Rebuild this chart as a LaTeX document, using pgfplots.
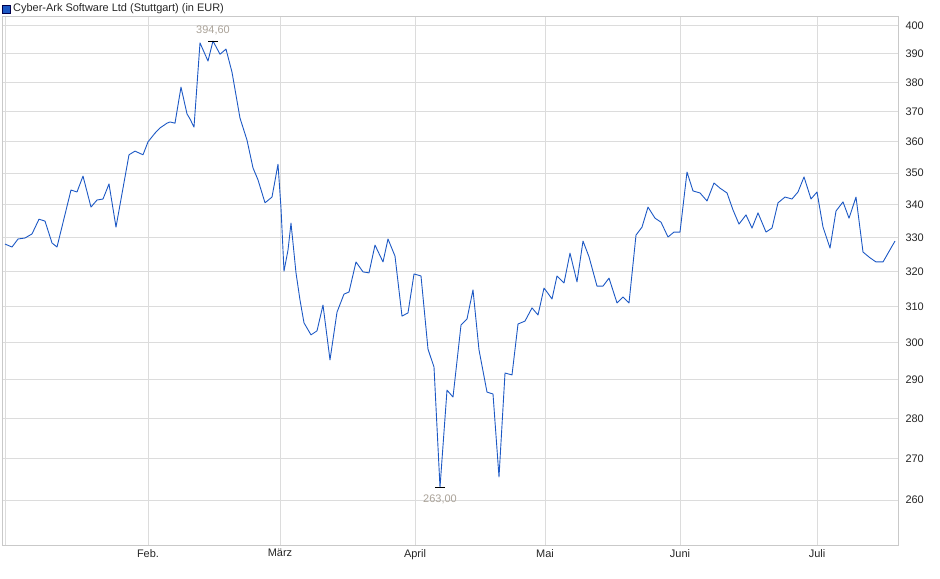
\documentclass[border=0pt]{standalone}
\usepackage{fontspec}
\setmainfont{Liberation Sans}
\usepackage{pgfplots}
\pgfplotsset{compat=1.18}
\usepackage{pgfplotstable}

\definecolor{kurs}{RGB}{28,88,196}
\definecolor{gitter}{RGB}{220,220,220}
\definecolor{marke}{RGB}{170,162,152}

% x = position on the time axis (Jan ... Jul), y = price in EUR
\pgfplotstableread{
x y
5 328.1
12 327.2
18 329.6
25 329.9
32 331.1
39 335.6
45 335.0
52 328.4
57 327.2
71 344.6
77 344.0
83 349.0
91 339.3
97 341.5
103 341.8
109 346.5
116 333.2
129 355.8
135 357.0
143 355.8
148 360.0
155 362.9
160 364.6
167 366.2
170 366.6
175 366.2
181 378.4
187 369.3
190 367.6
194 364.9
200 393.9
208 387.5
213 394.6
220 389.9
226 391.7
232 383.6
240 367.9
247 360.6
253 351.6
258 347.8
265 340.6
272 342.4
278 352.8
281 339.0
284 320.1
288 326.3
291 334.4
296 319.6
300 311.8
304 305.4
311 302.1
317 303.2
323 310.4
330 295.3
337 308.4
344 313.5
349 314.1
356 322.8
363 319.9
369 319.6
375 327.8
383 322.8
388 329.6
395 324.5
402 307.3
408 308.2
414 319.3
421 318.7
428 298.2
434 293.4
440 263.0
447 287.3
453 285.5
461 304.8
467 306.5
473 314.7
479 298.0
487 286.8
493 286.3
499 265.5
505 291.8
512 291.3
518 305.1
525 305.9
532 309.6
538 307.6
544 315.2
547 314.1
552 312.1
557 318.7
564 316.7
570 325.4
577 317.0
583 329.0
589 324.3
597 315.8
603 315.8
609 318.1
617 311.0
623 312.7
629 311.0
636 330.8
642 333.2
648 339.3
655 335.9
661 334.7
668 330.2
674 331.7
680 331.7
687 350.3
693 344.3
700 343.7
707 341.2
714 346.8
720 345.2
727 343.7
733 338.4
739 334.1
746 336.9
752 332.9
758 337.5
766 331.7
772 332.9
778 340.6
785 342.4
792 341.8
798 344.0
804 348.7
811 341.8
817 344.0
823 333.2
830 326.9
836 338.1
843 340.9
849 335.9
856 342.4
863 325.7
870 324.0
876 322.8
883 322.8
895 329.0
}\kursdaten

\begin{document}
\begin{tikzpicture}
\begin{axis}[
  at={(0,0)}, anchor=south west,
  scale only axis,
  width=896bp, height=529bp,
  xmin=2, xmax=898,
  ymode=log,
  ymin=249.6, ymax=403.65,
  axis line style={gitter!80!gray},
  grid=major,
  major grid style={gitter, line width=0.8pt},
  major tick length=0pt,
  xtick={5,148,280,415,545,680,817},
  xticklabels={,Feb.,März,April,Mai,Juni,Juli},
  ytick={260,270,280,290,300,310,320,330,340,350,360,370,380,390,400},
  yticklabels={260,270,280,290,300,310,320,330,340,350,360,370,380,390,400},
  yticklabel pos=right,
  ticklabel style={font=\fontsize{11}{12}\selectfont, text=black!85},
  yticklabel style={xshift=4bp},
  xticklabel style={yshift=-1bp},
  /pgf/number format/assume math mode=true,
  clip=false,
]
\addplot[kurs, line width=0.9pt, line join=round] table[x=x, y=y] {\kursdaten};
\addplot[only marks, mark=-, mark size=5bp, mark options={line width=0.9pt, black}]
  coordinates {(213,394.6) (440,263.0)};
\node[anchor=south, text=marke, font=\fontsize{11}{12}\selectfont, inner sep=1bp]
  at (axis cs:213,396.2) {394,60};
\node[anchor=north, text=marke, font=\fontsize{11}{12}\selectfont, inner sep=1bp]
  at (axis cs:440,261.6) {263,00};
\end{axis}
% legend at the top left
\fill[kurs, draw=black!70!blue, line width=0.6bp] (0bp,532bp) rectangle (8bp,540bp);
\node[anchor=west, font=\fontsize{11}{12}\selectfont, inner sep=0pt, text=black!85]
  at (11bp,536bp) {Cyber-Ark Software Ltd (Stuttgart) (in EUR)};
\pgfresetboundingbox
\useasboundingbox (-2bp,-34bp) rectangle (938bp,545bp);
\end{tikzpicture}
\end{document}
